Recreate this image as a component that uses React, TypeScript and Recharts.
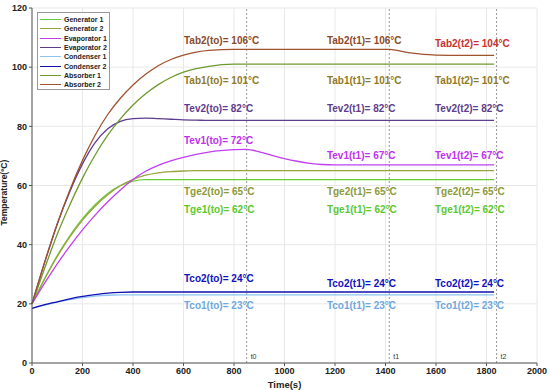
import React from 'react';
import { LineChart, Line, XAxis, YAxis, CartesianGrid, ReferenceLine, ReferenceDot, Legend } from 'recharts';

const times = [0, 50, 100, 150, 200, 250, 300, 350, 400, 450, 500, 550, 600, 650, 700, 800, 850, 900, 950, 1000, 1050, 1100, 1150, 1200, 1300, 1415, 1450, 1500, 1550, 1600, 1700, 1830];

const generator1 = [20, 28.5, 36.3, 43, 48.8, 53.5, 57.3, 60, 61.5, 62, 62, 62, 62, 62, 62, 62, 62, 62, 62, 62, 62, 62, 62, 62, 62, 62, 62, 62, 62, 62, 62, 62];
const generator2 = [20, 28.4, 36, 42.6, 48.3, 53, 56.9, 59.9, 62.1, 63.5, 64.3, 64.7, 64.9, 65, 65, 65, 65, 65, 65, 65, 65, 65, 65, 65, 65, 65, 65, 65, 65, 65, 65, 65];
const evaporator1 = [20, 27, 33.5, 39.5, 45, 50, 54.5, 58.5, 62, 64.8, 66.8, 68.3, 69.5, 70.5, 71.3, 72.1, 72.2, 71.4, 70.2, 69.1, 68.2, 67.5, 67.1, 67, 67, 67, 67, 67, 67, 67, 67, 67];
const evaporator2 = [20, 34, 47, 58, 67.3, 74.5, 79.2, 81.7, 82.6, 82.8, 82.6, 82.4, 82.2, 82.1, 82, 82, 82, 82, 82, 82, 82, 82, 82, 82, 82, 82, 82, 82, 82, 82, 82, 82];
const condenser1 = [18.5, 19.6, 20.6, 21.4, 22.1, 22.6, 22.9, 23, 23, 23, 23, 23, 23, 23, 23, 23, 23, 23, 23, 23, 23, 23, 23, 23, 23, 23, 23, 23, 23, 23, 23, 23];
const condenser2 = [18.5, 19.7, 20.7, 21.7, 22.5, 23.1, 23.6, 23.9, 24, 24, 24, 24, 24, 24, 24, 24, 24, 24, 24, 24, 24, 24, 24, 24, 24, 24, 24, 24, 24, 24, 24, 24];
const absorber1 = [20, 32, 43.5, 53.5, 62.5, 70.3, 77, 82.5, 87.2, 91, 94.1, 96.5, 98.3, 99.5, 100.3, 101, 101, 101, 101, 101, 101, 101, 101, 101, 101, 101, 101, 101, 101, 101, 101, 101];
const absorber2 = [20, 34, 47, 58.5, 68.5, 77, 84, 89.5, 94, 97.6, 100.5, 102.6, 104.1, 105.1, 105.7, 106, 106, 106, 106, 106, 106, 106, 106, 106, 106, 106, 105.6, 104.8, 104.3, 104.1, 104, 104];

const xTicks = [0, 200, 400, 600, 800, 1000, 1200, 1400, 1600, 1800, 2000];
const yTicks = [0, 20, 40, 60, 80, 100, 120];

const eventTimes = [850, 1415, 1840];
const eventLabels = ['t0', 't1', 't2'];

const series = [
  { key: 'g1', name: 'Generator 1', values: generator1, color: '#66CC33' },
  { key: 'g2', name: 'Generator 2', values: generator2, color: '#9AA43E' },
  { key: 'e1', name: 'Evaporator 1', values: evaporator1, color: '#C040F0' },
  { key: 'e2', name: 'Evaporator 2', values: evaporator2, color: '#5E3C8E' },
  { key: 'c1', name: 'Condenser 1', values: condenser1, color: '#8EC3F0' },
  { key: 'c2', name: 'Condenser 2', values: condenser2, color: '#1010B0' },
  { key: 'a1', name: 'Absorber 1', values: absorber1, color: '#6E9A2E' },
  { key: 'a2', name: 'Absorber 2', values: absorber2, color: '#A0522D' },
];

// annotation text anchors in data coordinates (time, temperature)
const annotationTexts = [
  'Tab2(to)= 106°C', 'Tab2(t1)= 106°C', 'Tab2(t2)= 104°C',
  'Tab1(to)= 101°C', 'Tab1(t1)= 101°C', 'Tab1(t2)= 101°C',
  'Tev2(to)= 82°C', 'Tev2(t1)= 82°C', 'Tev2(t2)= 82°C',
  'Tev1(to)= 72°C', 'Tev1(t1)= 67°C', 'Tev1(t2)= 67°C',
  'Tge2(to)= 65°C', 'Tge2(t1)= 65°C', 'Tge2(t2)= 65°C',
  'Tge1(to)= 62°C', 'Tge1(t1)= 62°C', 'Tge1(t2)= 62°C',
  'Tco2(to)= 24°C', 'Tco2(t1)= 24°C', 'Tco2(t2)= 24°C',
  'Tco1(to)= 23°C', 'Tco1(t1)= 23°C', 'Tco1(t2)= 23°C',
];
const annotationTimes = [
  602, 1168, 1596,
  602, 1168, 1596,
  602, 1168, 1596,
  602, 1168, 1596,
  602, 1168, 1596,
  602, 1168, 1596,
  602, 1168, 1596,
  602, 1168, 1596,
];
const annotationTemps = [
  109.1, 109.1, 108.1,
  95.6, 95.6, 95.6,
  86.1, 86.1, 86.1,
  75.3, 70.3, 70.3,
  58.1, 58.1, 58.1,
  52, 52, 52,
  28.4, 27, 27,
  19.3, 19.3, 19.3,
];
const annotationColors = [
  '#8B4A2B', '#8B4A2B', '#C8322E',
  '#8F7A2A', '#8F7A2A', '#8F7A2A',
  '#5E3C8E', '#5E3C8E', '#5E3C8E',
  '#C030F0', '#C030F0', '#C030F0',
  '#8C9A3A', '#8C9A3A', '#8C9A3A',
  '#5CC82E', '#5CC82E', '#5CC82E',
  '#1010C0', '#1010C0', '#1010C0',
  '#6FA8E0', '#6FA8E0', '#6FA8E0',
];

const data = times.map((t, i) => {
  const row: any = { t };
  series.forEach((s) => { row[s.key] = s.values[i]; });
  return row;
});

const FONT = 'Liberation Sans, Arial, sans-serif';

const LegendBox = () => (
  <div style={{
    position: 'absolute', left: 37, top: 12, width: 73, height: 78,
    border: '1px solid #999', background: '#fff', boxSizing: 'border-box',
    padding: '2px 0 0 2px', fontFamily: FONT, fontSize: 7, fontWeight: 'bold', color: '#222',
    whiteSpace: 'nowrap', overflow: 'hidden',
  }}>
    {series.map((s) => (
      <div key={s.key} style={{ display: 'flex', alignItems: 'center', height: 9.3 }}>
        <span style={{ display: 'inline-block', flex: '0 0 21px', width: 21, height: 0, borderTop: `1.5px solid ${s.color}`, marginRight: 3 }} />
        <span style={{ lineHeight: '9px' }}>{s.name}</span>
      </div>
    ))}
  </div>
);

export default function App() {
  return (
    <div style={{ position: 'absolute', left: 0, top: 0, width: 550, height: 390, background: '#fff' }}>
      <LineChart width={550} height={390} data={data} margin={{ top: 8, right: 13, bottom: 0, left: 0 }}>
        <CartesianGrid stroke="#e8e8e8" />
        <XAxis
          dataKey="t" type="number" domain={[0, 2000]} ticks={xTicks} height={27}
          tick={{ fontSize: 9, fontWeight: 'bold', fill: '#222', fontFamily: FONT }}
          tickSize={3} stroke="#555" tickMargin={2}
          label={{ value: 'Time(s)', position: 'insideBottom', offset: 2, fontSize: 9.5, fontWeight: 'bold', fill: '#222', fontFamily: FONT }}
        />
        <YAxis
          type="number" domain={[0, 120]} ticks={yTicks} width={32}
          tick={{ fontSize: 9, fontWeight: 'bold', fill: '#222', fontFamily: FONT }}
          tickSize={3} stroke="#555" tickMargin={2}
          label={{ value: 'Temperature(ºC)', angle: -90, position: 'insideLeft', offset: 4, dy: 40, fontSize: 8.5, fontWeight: 'bold', fill: '#222', fontFamily: FONT }}
        />
        {eventTimes.map((x, i) => (
          <ReferenceLine key={'ev' + i} x={x} stroke="#999" strokeDasharray="2 2"
            label={{ value: eventLabels[i], position: 'insideBottomLeft', offset: 4, fontSize: 7, fill: '#333', fontFamily: FONT }} />
        ))}
        {series.map((s) => (
          <Line key={s.key} dataKey={s.key} name={s.name} type="monotone" stroke={s.color}
            strokeWidth={1.3} dot={false} isAnimationActive={false} />
        ))}
        {annotationTexts.map((txt, i) => (
          <ReferenceDot key={'an' + i} x={annotationTimes[i]} y={annotationTemps[i]} r={0}
            shape={(p: any) => (
              <text x={p.cx} y={p.cy + 3.5} fill={annotationColors[i]} fontSize={10} fontWeight="bold" fontFamily={FONT}>{txt}</text>
            )} />
        ))}
        <Legend layout="horizontal" verticalAlign="middle" align="center" content={() => null} />
      </LineChart>
      <LegendBox />
    </div>
  );
}
